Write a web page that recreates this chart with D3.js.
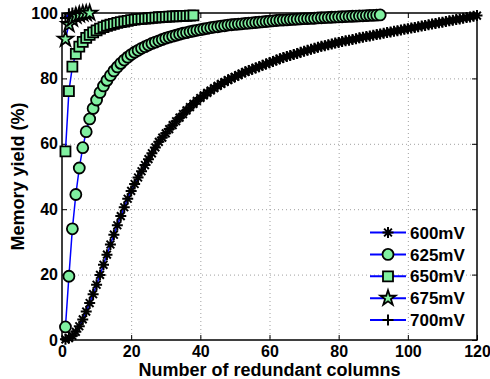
<!DOCTYPE html>
<html>
<head>
<meta charset="utf-8">
<script src="https://cdn.jsdelivr.net/npm/d3@7"></script>
<style>
  body { margin: 0; background: #fff; }
  text { font-family: "Liberation Sans", Arial, Helvetica, sans-serif; font-weight: bold; fill: #000; }
</style>
</head>
<body>
<script>
"use strict";

// yield (%) vs number of redundant columns, columns start at 1
const yield600 = [
  0.2, 0.6, 1.3, 2.5, 4.2, 6.3, 8.7, 11.3, 14.0, 16.9,
  19.9, 23.0, 26.1, 29.2, 32.2, 35.1, 37.9, 40.6, 43.2, 45.6,
  47.7, 49.7, 51.6, 53.5, 55.3, 57.1, 58.9, 60.6, 61.9, 63.2,
  64.5, 65.7, 66.9, 68.0, 69.1, 70.2, 71.2, 72.2, 73.1, 74.0,
  74.8, 75.6, 76.3, 77.0, 77.7, 78.3, 78.9, 79.5, 80.0, 80.5,
  81.0, 81.5, 82.0, 82.4, 82.8, 83.2, 83.6, 84.0, 84.4, 84.8,
  85.2, 85.6, 86.0, 86.4, 86.7, 87.0, 87.3, 87.6, 88.0, 88.3,
  88.6, 88.9, 89.2, 89.5, 89.8, 90.0, 90.3, 90.5, 90.8, 91.0,
  91.3, 91.5, 91.7, 91.9, 92.1, 92.4, 92.6, 92.8, 93.0, 93.2,
  93.4, 93.6, 93.8, 94.0, 94.2, 94.4, 94.6, 94.8, 95.0, 95.2,
  95.4, 95.6, 95.8, 96.0, 96.2, 96.4, 96.6, 96.8, 97.0, 97.2,
  97.4, 97.6, 97.8, 98.0, 98.2, 98.4, 98.6, 98.8, 99.0, 99.2
];
const yield625 = [
  4.0, 19.5, 34.0, 44.5, 52.6, 58.8, 63.7, 67.6, 70.8, 73.4,
  75.7, 77.7, 79.4, 80.9, 82.3, 83.5, 84.6, 85.6, 86.5, 87.3,
  88.0, 88.6, 89.2, 89.7, 90.2, 90.7, 91.1, 91.5, 91.9, 92.3,
  92.6, 92.9, 93.2, 93.5, 93.8, 94.0, 94.3, 94.5, 94.7, 94.9,
  95.1, 95.3, 95.5, 95.7, 95.8, 96.0, 96.1, 96.3, 96.4, 96.5,
  96.6, 96.7, 96.8, 96.9, 97.0, 97.1, 97.2, 97.3, 97.4, 97.5,
  97.6, 97.7, 97.8, 97.85, 97.9, 98.0, 98.05, 98.1, 98.2, 98.25,
  98.3, 98.35, 98.4, 98.5, 98.55, 98.6, 98.65, 98.7, 98.75, 98.8,
  98.85, 98.9, 98.95, 99.0, 99.05, 99.1, 99.15, 99.2, 99.25, 99.3,
  99.35, 99.4
];
const yield650 = [
  57.7, 76.1, 83.6, 87.5, 89.7, 91.2, 92.4, 93.3, 94.1, 94.7,
  95.2, 95.7, 96.1, 96.4, 96.7, 97.0, 97.2, 97.4, 97.6, 97.8,
  97.95, 98.1, 98.2, 98.3, 98.4, 98.5, 98.6, 98.7, 98.75, 98.8,
  98.9, 98.95, 99.0, 99.05, 99.1, 99.15, 99.2, 99.25
];
const yield675 = [92.0, 96.5, 98.2, 99.1, 99.5, 99.8, 99.9, 100];
const yield700 = [98.5, 99.8, 100, 100];

const seriesNames = ["600mV", "625mV", "650mV", "675mV", "700mV"];
const seriesValues = [yield600, yield625, yield650, yield675, yield700];
const seriesMarkers = ["asterisk", "circle", "square", "pentagram", "plus"];

const xTicks = [0, 20, 40, 60, 80, 100, 120];
const yTicks = [0, 20, 40, 60, 80, 100];

const width = 490, height = 379;
const plot = { left: 62, right: 477, top: 13, bottom: 340 };
const lineColor = "#0000ff";
const faceColor = "#80f0a0";

const svg = d3.select("body").append("svg")
  .attr("width", width)
  .attr("height", height);

const x = d3.scaleLinear().domain([0, 120]).range([plot.left, plot.right]);
const y = d3.scaleLinear().domain([0, 100]).range([plot.bottom, plot.top]);

// dotted grid
const grid = svg.append("g")
  .attr("stroke", "#a0a0a0")
  .attr("stroke-width", 1)
  .attr("stroke-dasharray", "1,3");
grid.selectAll(".gx").data(xTicks.slice(1, -1)).enter().append("line")
  .attr("x1", d => x(d) + 0.5).attr("x2", d => x(d) + 0.5)
  .attr("y1", plot.top).attr("y2", plot.bottom);
grid.selectAll(".gy").data(yTicks.slice(1, -1)).enter().append("line")
  .attr("y1", d => y(d) + 0.5).attr("y2", d => y(d) + 0.5)
  .attr("x1", plot.left).attr("x2", plot.right);

// axes with inward ticks on all four sides
function styleAxis(g) {
  g.select(".domain").remove();
  g.selectAll(".tick line").attr("stroke", "#000").attr("stroke-width", 1);
  g.selectAll(".tick text").style("font-size", "16px").style("font-family", null);
}
svg.append("g")
  .attr("transform", `translate(0,${plot.bottom})`)
  .call(d3.axisBottom(x).tickValues(xTicks).tickSizeInner(-5).tickSizeOuter(0).tickPadding(6))
  .call(styleAxis);
svg.append("g")
  .attr("transform", `translate(0,${plot.top})`)
  .call(d3.axisTop(x).tickValues(xTicks).tickSizeInner(-5).tickSizeOuter(0).tickFormat(""))
  .call(styleAxis);
svg.append("g")
  .attr("transform", `translate(${plot.left},0)`)
  .call(d3.axisLeft(y).tickValues(yTicks).tickSizeInner(-5).tickSizeOuter(0).tickPadding(4))
  .call(styleAxis);
svg.append("g")
  .attr("transform", `translate(${plot.right},0)`)
  .call(d3.axisRight(y).tickValues(yTicks).tickSizeInner(-5).tickSizeOuter(0).tickFormat(""))
  .call(styleAxis);

svg.append("rect")
  .attr("x", plot.left).attr("y", plot.top)
  .attr("width", plot.right - plot.left).attr("height", plot.bottom - plot.top)
  .attr("fill", "none").attr("stroke", "#000").attr("stroke-width", 1.5);

// marker shapes, drawn around (0,0)
function markerPath(kind) {
  if (kind === "asterisk") {
    const r = 5.5, d = r * 0.707;
    return `M${-r},0L${r},0M0,${-r}L0,${r}M${-d},${-d}L${d},${d}M${-d},${d}L${d},${-d}`;
  }
  if (kind === "plus") {
    const r = 5.5;
    return `M${-r},0L${r},0M0,${-r}L0,${r}`;
  }
  if (kind === "square") {
    const h = 5;
    return `M${-h},${-h}H${h}V${h}H${-h}Z`;
  }
  if (kind === "circle") {
    const r = 5.5;
    return `M${r},0A${r},${r} 0 1,1 ${-r},0A${r},${r} 0 1,1 ${r},0Z`;
  }
  // pentagram
  const R = 8, ri = R * 0.382;
  let p = "";
  for (let i = 0; i < 10; i++) {
    const a = -Math.PI / 2 + i * Math.PI / 5;
    const rr = i % 2 === 0 ? R : ri;
    p += (i === 0 ? "M" : "L") + (rr * Math.cos(a)).toFixed(2) + "," + (rr * Math.sin(a)).toFixed(2);
  }
  return p + "Z";
}

function styleMarker(sel, kind) {
  const filled = kind === "circle" || kind === "square" || kind === "pentagram";
  sel.attr("d", markerPath(kind))
    .attr("fill", filled ? faceColor : "none")
    .attr("stroke", "#000")
    .attr("stroke-width", filled ? 1.8 : 2);
}

const line = d3.line()
  .x(d => x(d.col))
  .y(d => y(d.v));

seriesValues.forEach((vals, si) => {
  const pts = vals.map((v, i) => ({ col: i + 1, v: v }));
  const g = svg.append("g");
  g.append("path")
    .attr("d", line(pts))
    .attr("fill", "none")
    .attr("stroke", lineColor)
    .attr("stroke-width", 1.5);
  g.selectAll("path.mk").data(pts).enter().append("path")
    .attr("class", "mk")
    .attr("transform", d => `translate(${x(d.col)},${y(d.v)})`)
    .call(styleMarker, seriesMarkers[si]);
});

// legend (no box)
const legend = svg.append("g");
seriesNames.forEach((name, i) => {
  const ly = 232.5 + i * 21.9;
  legend.append("line")
    .attr("x1", 370).attr("x2", 406)
    .attr("y1", ly).attr("y2", ly)
    .attr("stroke", lineColor).attr("stroke-width", 2);
  legend.append("path")
    .attr("transform", `translate(388,${ly})`)
    .call(styleMarker, seriesMarkers[i]);
  legend.append("text")
    .attr("x", 410).attr("y", ly)
    .attr("dy", "0.36em")
    .style("font-size", "17px")
    .text(name);
});

// axis titles
svg.append("text")
  .attr("x", (plot.left + plot.right) / 2)
  .attr("y", 376)
  .attr("text-anchor", "middle")
  .style("font-size", "18px")
  .text("Number of redundant columns");
svg.append("text")
  .attr("transform", `translate(24,${(plot.top + plot.bottom) / 2}) rotate(-90)`)
  .attr("text-anchor", "middle")
  .style("font-size", "18px")
  .text("Memory yield (%)");
</script>
</body>
</html>
